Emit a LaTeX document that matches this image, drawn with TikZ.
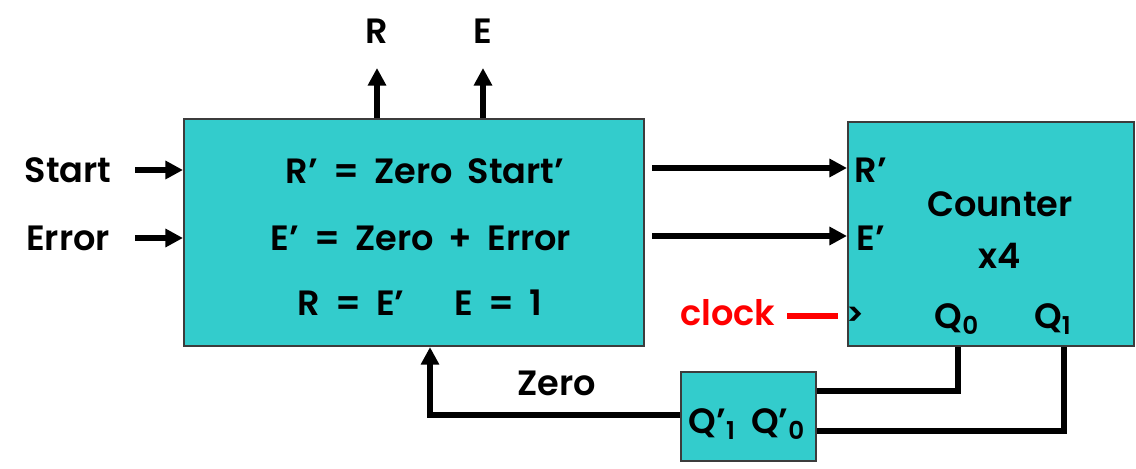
\documentclass[tikz,border=0pt]{standalone}
\usepackage{fontspec}
\setmainfont{Poppins}[BoldFont={Poppins SemiBold},WordSpace=1.8]
\usetikzlibrary{arrows.meta}
\definecolor{boxfill}{RGB}{51,204,204}
\definecolor{boxline}{RGB}{60,60,60}
\begin{document}
\begin{tikzpicture}[x=0.02cm,y=-0.02cm,
  blk/.style={draw=boxline,line width=1.2pt,fill=boxfill},
  lbl/.style={font=\fontsize{20}{24}\selectfont\bfseries,inner sep=0pt},
  sig/.style={line width=3.3pt,-{Triangle[length=10pt,width=10pt]}},
  wire/.style={line width=3.3pt}]
\useasboundingbox (0,0) rectangle (1136,469);
% blocks
\node[blk,minimum width=460*0.02cm,minimum height=227*0.02cm,anchor=north west,inner sep=0pt] (ctl) at (183,118) {};
\node[blk,minimum width=286*0.02cm,minimum height=224*0.02cm,anchor=north west,inner sep=0pt] (cnt) at (847,121) {};
\node[blk,minimum width=135*0.02cm,minimum height=89*0.02cm,anchor=north west,inner sep=0pt] (nor) at (680,371) {};
% equations inside the controller
\node[lbl] (eq1) at (425,171) {R’ = Zero Start’};
\node[lbl] (eq2) at (421,238) {E’ = Zero + Error};
\node[lbl] (eq3) at (420,303) {R = E’\quad\ E = 1};
% inputs
\node[lbl] (start) at (68,170) {Start};
\node[lbl] (error) at (68,238) {Error};
\coordinate (s0) at (135,170);
\coordinate (e0) at (135,238);
\draw[sig] (s0) -- (s0 -| ctl.west);
\draw[sig] (e0) -- (e0 -| ctl.west);
% outputs
\node[lbl] (rout) at (377,31) {R};
\node[lbl] (eout) at (483,31) {E};
\coordinate (rt) at (377,68);
\coordinate (et) at (483,68);
\draw[sig] (rt |- ctl.north) -- (rt);
\draw[sig] (et |- ctl.north) -- (et);
% controller to counter
\coordinate (r1) at (652,168);
\coordinate (e1) at (652,236);
\draw[sig] (r1) -- (r1 -| cnt.west);
\draw[sig] (e1) -- (e1 -| cnt.west);
% counter labels
\node[lbl] (rin) at (871,170) {R’};
\node[lbl] (ein) at (871,238) {E’};
\node[lbl,align=center] (ctr) at (1000,230) {Counter\\[6pt]x4};
\node[lbl] (q0) at (957,319) {Q\textsubscript{0}};
\node[lbl] (q1) at (1053,319) {Q\textsubscript{1}};
\node[lbl,font=\fontsize{18}{18}\selectfont\bfseries] (tick) at (855,316) {>};
% clock
\node[lbl,text=red] (clk) at (728,313) {clock};
\coordinate (c0) at (787,316);
\draw[wire,red] (c0) -- (838,316);
% zero detector
\node[lbl] (nq) at (747,424) {Q’\textsubscript{1} Q’\textsubscript{0}};
\coordinate (w0) at (958,391);
\coordinate (w1) at (1064,431);
\draw[wire] (w0 |- cnt.south) -- (w0) -- (w0 -| nor.east);
\draw[wire] (w1 |- cnt.south) -- (w1) -- (w1 -| nor.east);
\coordinate (z0) at (430,415);
\draw[sig] (z0 -| nor.west) -- (z0) -- (z0 |- ctl.south);
\node[lbl] (zero) at (557,383) {Zero};
\end{tikzpicture}
\end{document}
